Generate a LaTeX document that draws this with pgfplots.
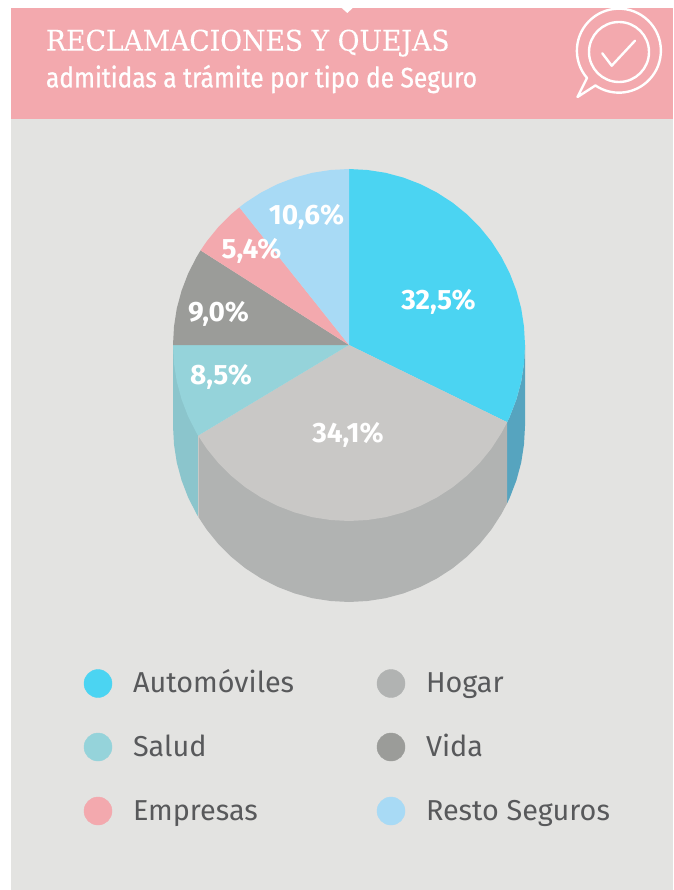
\documentclass[border=0pt]{standalone}
\usepackage{pgfplots}
\pgfplotsset{compat=1.18}
\usepackage{fontspec}
\setmainfont{Fira Sans}
\newfontfamily\titlefont[FakeStretch=0.935,FakeBold=0.2]{DejaVu Serif}
\newfontfamily\subfont[FakeStretch=0.875,FakeBold=0.8]{Fira Sans}
\definecolor{bg}{HTML}{E3E3E1}
\definecolor{pinkb}{HTML}{F3A9AE}
\definecolor{auto}{HTML}{4BD4F2}
\definecolor{autos}{HTML}{56A4BF}
\definecolor{hogar}{HTML}{C9C8C6}
\definecolor{hogars}{HTML}{B1B3B2}
\definecolor{salud}{HTML}{95D3DA}
\definecolor{saluds}{HTML}{8BC5CC}
\definecolor{vida}{HTML}{9B9C99}
\definecolor{resto}{HTML}{A8DAF5}
\definecolor{txt}{HTML}{58595B}
\tikzset{tx/.style={inner sep=0pt,outer sep=0pt},
  vl/.style={tx,text=white,font=\bfseries\fontsize{28}{28}\selectfont},
  lg/.style={tx,anchor=base west,text=txt,font=\fontsize{28.8}{28.8}\selectfont}}
\begin{document}
\begin{tikzpicture}
\begin{axis}[
  scale only axis, width=673pt, height=890pt,
  xmin=0, xmax=673, ymin=0, ymax=890, y dir=reverse,
  hide axis, clip=true,
]
% page and panels
\addplot[fill=white,draw=none] coordinates {(0,0)(673,0)(673,890)(0,890)} -- cycle;
\addplot[fill=bg,draw=none] coordinates {(10.5,118)(673,118)(673,890)(10.5,890)} -- cycle;
\addplot[fill=pinkb,draw=none] coordinates {(10.5,8)(673,8)(673,118.8)(10.5,118.8)} -- cycle;
\addplot[fill=white,draw=none] coordinates {(341.7,8)(352.7,8)(347.3,13)} -- cycle;
% sides
\addplot[fill=autos,draw=none] coordinates {(525,345)(524,363.4)(521.2,381.6)(516.4,399.4)(509.8,416.6)(507.2,422.2)(507.2,503.2)(509.8,497.6)(516.4,480.4)(521.2,462.6)(524,444.4)(525,426)} -- cycle;
\addplot[fill=hogars,draw=none] coordinates {(507.2,422.2)(507.2,503.2)(501.4,514)(491.4,529.5)(479.8,543.8)(466.8,556.8)(452.5,568.4)(437,578.4)(420.6,586.8)(403.4,593.4)(385.6,598.2)(367.4,601)(349,602)(330.6,601)(312.4,598.2)(294.6,593.4)(277.4,586.8)(261,578.4)(245.5,568.4)(231.2,556.8)(218.2,543.8)(206.6,529.5)(198.1,516.6)(198.1,435.6)} -- cycle;
\addplot[fill=saluds,draw=none] coordinates {(198.1,435.6)(198.1,516.6)(196.6,514)(188.2,497.6)(181.6,480.4)(176.8,462.6)(174,444.4)(173,426)(173,345)} -- cycle;
\addplot[draw=hogar,line width=0.5pt] coordinates {(198.1,435.6)(198.1,516.6)};
% top slices
\addplot[fill=auto,draw=none] coordinates {(349,345)(349,169)(367.4,170)(385.6,172.8)(403.4,177.6)(420.6,184.2)(437,192.6)(452.5,202.6)(466.8,214.2)(479.8,227.2)(491.4,241.5)(501.4,257)(509.8,273.4)(516.4,290.6)(521.2,308.4)(524,326.6)(525,345)(524,363.4)(521.2,381.6)(516.4,399.4)(509.8,416.6)(507.2,422.2)} -- cycle;
\addplot[fill=hogar,draw=none] coordinates {(349,345)(507.2,422.2)(501.4,433)(491.4,448.5)(479.8,462.8)(466.8,475.8)(452.5,487.4)(437,497.4)(420.6,505.8)(403.4,512.4)(385.6,517.2)(367.4,520)(349,521)(330.6,520)(312.4,517.2)(294.6,512.4)(277.4,505.8)(261,497.4)(245.5,487.4)(231.2,475.8)(218.2,462.8)(206.6,448.5)(198.1,435.6)} -- cycle;
\addplot[fill=salud,draw=none] coordinates {(349,345)(198.1,435.6)(196.6,433)(188.2,416.6)(181.6,399.4)(176.8,381.6)(174,363.4)(173,345)} -- cycle;
\addplot[fill=vida,draw=none] coordinates {(349,345)(173,345)(174,326.6)(176.8,308.4)(181.6,290.6)(188.2,273.4)(196.6,257)(200.6,250.4)} -- cycle;
\addplot[fill=pinkb,draw=none] coordinates {(349,345)(200.6,250.4)(206.6,241.5)(218.2,227.2)(231.2,214.2)(239.4,207.3)} -- cycle;
\addplot[fill=resto,draw=none] coordinates {(349,345)(239.4,207.3)(245.5,202.6)(261,192.6)(277.4,184.2)(294.6,177.6)(312.4,172.8)(330.6,170)(349,169)} -- cycle;
% legend dots
\addplot[only marks,mark=*,mark size=14pt,mark options={draw=auto,fill=auto}] coordinates {(98,683.5)};
\addplot[only marks,mark=*,mark size=14pt,mark options={draw=hogars,fill=hogars}] coordinates {(391,683.5)};
\addplot[only marks,mark=*,mark size=14pt,mark options={draw=salud,fill=salud}] coordinates {(98,747)};
\addplot[only marks,mark=*,mark size=14pt,mark options={draw=vida,fill=vida}] coordinates {(391,747)};
\addplot[only marks,mark=*,mark size=14pt,mark options={draw=pinkb,fill=pinkb}] coordinates {(98,811)};
\addplot[only marks,mark=*,mark size=14pt,mark options={draw=resto,fill=resto}] coordinates {(391,811)};
% titles
\node[tx,anchor=base west,text=white,font=\titlefont\fontsize{28.5}{28.5}\selectfont] at (axis cs:46,50.7) {RECLAMACIONES Y QUEJAS};
\node[tx,anchor=base west,text=white,font=\subfont\fontsize{28}{28}\selectfont] at (axis cs:46,87.3) {admitidas a trámite por tipo de Seguro};
% value labels
\node[vl] at (axis cs:438.5,302) {32,5\%};
\node[vl] at (axis cs:348,435) {34,1\%};
\node[vl] at (axis cs:221,377) {8,5\%};
\node[vl] at (axis cs:218.5,314) {9,0\%};
\node[vl] at (axis cs:251.5,251) {5,4\%};
\node[vl] at (axis cs:306.5,217) {10,6\%};
% legend text
\node[lg] at (axis cs:133,692.7) {Automóviles};
\node[lg] at (axis cs:426,692.7) {Hogar};
\node[lg] at (axis cs:133,756) {Salud};
\node[lg] at (axis cs:426,756) {Vida};
\node[lg] at (axis cs:133,820) {Empresas};
\node[lg] at (axis cs:426,820) {Resto Seguros};
% icon
\draw[white,line width=2.4pt,line join=round] (axis cs:587,78) arc[start angle=220.6,end angle=-124,radius=42pt] -- (axis cs:577.5,97) -- cycle;
\draw[white,line width=2.4pt] (axis cs:619,52) circle[radius=30pt];
\draw[white,line width=2.4pt,line cap=round,line join=round] (axis cs:602.3,53.3) -- (axis cs:611.7,65.7) -- (axis cs:635,40.7);
\end{axis}
\end{tikzpicture}
\end{document}
